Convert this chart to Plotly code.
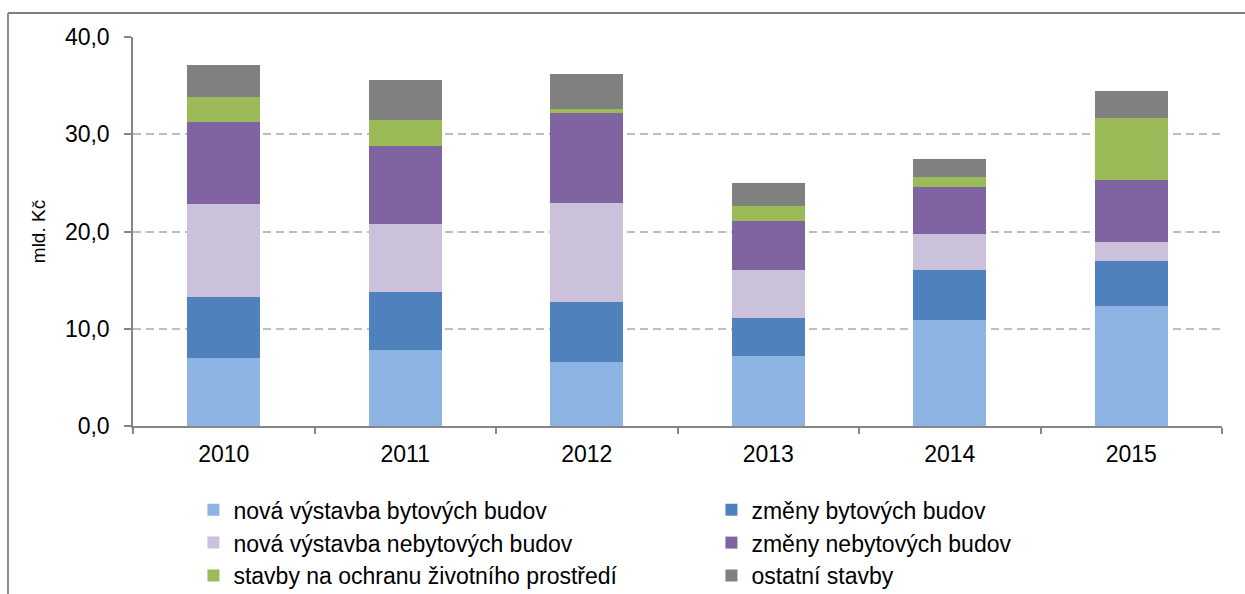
import plotly.graph_objects as go

years = ["2010", "2011", "2012", "2013", "2014", "2015"]

nova_bytove = [7.0, 7.8, 6.6, 7.2, 10.9, 12.3]
zmeny_bytove = [6.3, 6.0, 6.2, 3.9, 5.1, 4.7]
nova_nebytove = [9.5, 7.0, 10.1, 4.9, 3.7, 1.9]
zmeny_nebytove = [8.5, 8.0, 9.3, 5.1, 4.9, 6.4]
zivotni_prostredi = [2.5, 2.7, 0.4, 1.5, 1.0, 6.4]
ostatni = [3.3, 4.1, 3.6, 2.4, 1.9, 2.7]

series = [
    ("nová výstavba bytových budov", nova_bytove, "#8EB4E3"),
    ("změny bytových budov", zmeny_bytove, "#4F81BD"),
    ("nová výstavba nebytových budov", nova_nebytove, "#CCC1DA"),
    ("změny nebytových budov", zmeny_nebytove, "#8064A2"),
    ("stavby na ochranu životního prostředí", zivotni_prostredi, "#9BBB59"),
    ("ostatní stavby", ostatni, "#808080"),
]

FONT = "Liberation Sans, Arial, sans-serif"

fig = go.Figure()
for name, vals, color in series:
    fig.add_trace(go.Bar(
        x=years, y=vals, name=name,
        marker=dict(color=color, line=dict(width=0)),
    ))

fig.update_layout(
    width=1245, height=594,
    barmode="stack",
    bargap=0.6,
    separators=", ",
    paper_bgcolor="white",
    plot_bgcolor="white",
    font=dict(family=FONT, size=23, color="black"),
    margin=dict(l=133, r=23, t=37, b=168, autoexpand=False),
    showlegend=True,
    legend=dict(
        orientation="h",
        entrywidth=473,
        x=0.0555, xanchor="left",
        y=-0.16, yanchor="top",
        font=dict(family=FONT, size=23, color="black"),
        bgcolor="rgba(0,0,0,0)",
        traceorder="normal",
    ),
    xaxis=dict(
        type="category",
        showline=True, linecolor="#868686", linewidth=1.5,
        ticks="outside", tickson="boundaries", ticklen=6, tickcolor="#868686", tickwidth=1.5,
        ticklabelstandoff=7,
        tickfont=dict(family=FONT, size=23, color="black"),
        showgrid=False,
    ),
    yaxis=dict(
        range=[0, 40], dtick=10, tickformat=".1f",
        showline=True, linecolor="#868686", linewidth=1.5,
        ticks="outside", ticklen=7, tickcolor="#868686", tickwidth=1.5,
        ticklabelstandoff=10,
        tickfont=dict(family=FONT, size=23, color="black"),
        showgrid=True, gridcolor="#BEBEBE", gridwidth=1.5, griddash="8px,5px",
        zeroline=False,
        title=dict(text="mld. Kč", font=dict(family=FONT, size=19, color="black"), standoff=14),
    ),
    shapes=[
        dict(type="line", xref="paper", yref="paper",
             x0=-0.1148, x1=1.05, y0=1.062, y1=1.062,
             line=dict(color="#808080", width=2), layer="above"),
        dict(type="line", xref="paper", yref="paper",
             x0=-0.1148, x1=-0.1148, y0=-0.45, y1=1.062,
             line=dict(color="#8C8C8C", width=2), layer="above"),
    ],
)

fig.write_html(
    "out.html",
    config={"displayModeBar": False},
    post_script="document.body.style.margin='0';document.body.style.overflow='hidden';",
)
